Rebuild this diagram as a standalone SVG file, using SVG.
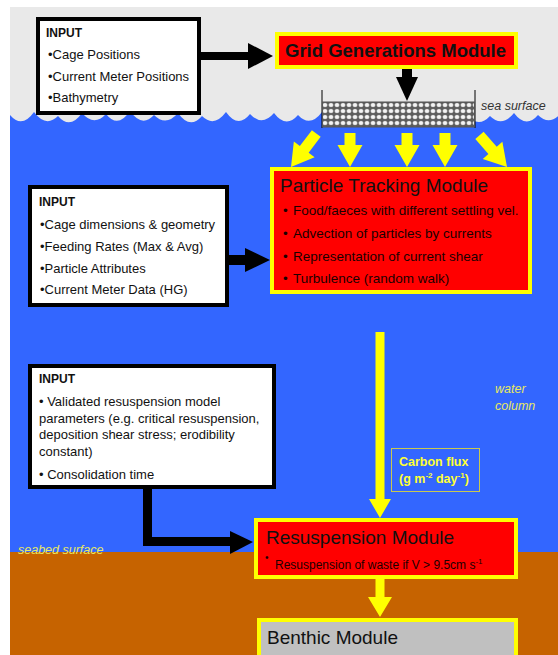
<svg xmlns="http://www.w3.org/2000/svg" width="558" height="655" viewBox="0 0 558 655">
<style>
  text { font-family: "Liberation Sans", Arial, sans-serif; }
  .inbox { fill: #ffffff; stroke: #000000; stroke-width: 4; }
  .modbox { fill: #ff0000; stroke: #ffff00; stroke-width: 4; }
  .bentbox { fill: #c0c0c0; stroke: #ffff00; stroke-width: 4; }
  .hdr { font-size: 12px; font-weight: bold; fill: #111; }
  .itm { font-size: 13px; fill: #111; }
  .title { font-size: 19px; fill: #111; }
  .mitm { font-size: 13.5px; fill: #1a0000; }
  .blk { fill: #000000; }
  .yel { fill: #ffff00; }
  .lab { font-size: 12.5px; font-style: italic; fill: #e8e860; }
</style>
<defs>
  <pattern id="mesh" x="322" y="102" width="6" height="6" patternUnits="userSpaceOnUse">
    <rect width="6" height="6" fill="#5c5c5c"/>
    <rect x="0.8" y="1" width="4.4" height="4" rx="1.6" fill="#f4f4f4" stroke="#8a8a8a" stroke-width="0.4"/>
  </pattern>
  <path id="yV" d="M-5.5,-34 L5.5,-34 L5.5,-22 L12.5,-22 L0,0 L-12.5,-22 L-5.5,-22 Z"/>
  <path id="yD" d="M-5.5,-42 L5.5,-42 L5.5,-22 L13,-22 L0,0 L-13,-22 L-5.5,-22 Z"/>
</defs>

<!-- background -->
<rect x="0" y="0" width="558" height="655" fill="#ffffff"/>
<rect x="10" y="7" width="548" height="648" fill="#e9e9e9"/>
<path fill="#3366ff" d="M10,115 Q22,129 34,112 Q46,128 58,116 Q70,130 82,113 Q94,127 106,114 Q118,129 130,111 Q142,128 154,115 Q166,127 178,113 Q190,130 202,116 Q214,128 226,112 Q238,129 250,114 Q262,127 274,113 Q286,129 298,115 Q310,128 322,112 Q334,129 346,116 Q358,128 370,114 Q382,127 394,113 Q406,129 418,115 Q430,128 442,112 Q454,127 466,114 Q478,129 490,116 Q502,128 514,113 Q526,129 538,115 Q550,127 562,112 L562,552 L10,552 Z"/>
<rect x="10" y="552" width="548" height="103" fill="#c66300"/>

<text x="481" y="110" class="lab" style="fill:#333333">sea surface</text>
<text x="495" y="393" class="lab">water</text>
<text x="495" y="410" class="lab">column</text>
<text x="18" y="554" class="lab">seabed surface</text>

<!-- connectors -->
<g id="connectors">
  <rect x="201" y="52" width="48" height="8" class="blk"/>
  <polygon points="248,43 273,56 248,69" class="blk"/>
  <rect x="402" y="69" width="10" height="9" class="blk"/>
  <polygon points="396,77 418,77 407,101" class="blk"/>
  <rect x="229" y="255" width="17" height="10" class="blk"/>
  <polygon points="245,248 270,260 245,272" class="blk"/>
  <path d="M143,489 L152,489 L152,537 L231,537 L231,546 L143,546 Z" class="blk"/>
  <polygon points="230,531 253,542 230,554" class="blk"/>
  <use href="#yD" class="yel" transform="translate(291,167) rotate(37)"/>
  <use href="#yV" class="yel" transform="translate(350,167)"/>
  <use href="#yV" class="yel" transform="translate(407,167)"/>
  <use href="#yV" class="yel" transform="translate(445,167)"/>
  <use href="#yD" class="yel" transform="translate(507,167) rotate(-41)"/>
  <path d="M375.5,332 L384.5,332 L384.5,499 L391,499 L380,518 L369,499 L375.5,499 Z" class="yel"/>
  <path d="M375.5,579 L384.5,579 L384.5,597 L392,597 L380,617 L368,597 L375.5,597 Z" class="yel"/>
</g>

<g id="carbon-flux-label">
  <rect x="391.5" y="448.5" width="88" height="43" fill="none" stroke="#c8c850" stroke-width="1"/>
  <text x="399" y="466" style="font-size:12.5px;font-weight:bold;fill:#ffff33">Carbon flux</text>
  <text x="399" y="483" style="font-size:12.5px;font-weight:bold;fill:#ffff33">(g m<tspan dy="-5" style="font-size:8px">-2</tspan><tspan dy="5"> day</tspan><tspan dy="-5" style="font-size:8px">-1</tspan><tspan dy="5">)</tspan></text>
</g>

<!-- nodes -->
<g id="input-grid">
  <rect x="38" y="19" width="161" height="94" class="inbox"/>
  <text x="46" y="37" class="hdr">INPUT</text>
  <text x="48" y="59" class="itm">•Cage Positions</text>
  <text x="48" y="81" class="itm">•Current Meter Positions</text>
  <text x="48" y="102" class="itm">•Bathymetry</text>
</g>

<g id="grid-module">
  <rect x="277" y="34" width="239" height="33" class="modbox"/>
  <text x="285" y="57" style="font-size:18.5px;font-weight:bold;fill:#111">Grid Generations Module</text>
</g>

<g id="cage-grid">
  <line x1="322" y1="90" x2="322" y2="128" stroke="#000" stroke-width="1"/>
  <line x1="475" y1="90" x2="475" y2="128" stroke="#000" stroke-width="1"/>
  <rect x="322.5" y="102" width="152" height="25" fill="url(#mesh)" stroke="#555" stroke-width="1"/>
</g>

<g id="particle-module">
  <rect x="272" y="169" width="258" height="123" class="modbox"/>
  <text x="280" y="192" class="title">Particle Tracking Module</text>
  <text x="283" y="215" class="mitm">•</text><text x="293" y="215" class="mitm">Food/faeces with different settling vel.</text>
  <text x="283" y="238" class="mitm">•</text><text x="293" y="238" class="mitm">Advection of particles by currents</text>
  <text x="283" y="261" class="mitm">•</text><text x="293" y="261" class="mitm">Representation of current shear</text>
  <text x="283" y="283" class="mitm">•</text><text x="293" y="283" class="mitm">Turbulence (random walk)</text>
</g>

<g id="input-particle">
  <rect x="30" y="187" width="197" height="118" class="inbox"/>
  <text x="39" y="206" class="hdr">INPUT</text>
  <text x="40" y="229" class="itm">•Cage dimensions &amp; geometry</text>
  <text x="40" y="251" class="itm">•Feeding Rates (Max &amp; Avg)</text>
  <text x="40" y="273" class="itm">•Particle Attributes</text>
  <text x="40" y="294" class="itm">•Current Meter Data (HG)</text>
</g>

<g id="input-resuspension">
  <rect x="30" y="366" width="244" height="121" class="inbox"/>
  <text x="39" y="383" class="hdr">INPUT</text>
  <text x="39" y="406" class="itm">• Validated resuspension model</text>
  <text x="39" y="423" class="itm">parameters (e.g. critical resuspension,</text>
  <text x="39" y="439" class="itm">deposition shear stress; erodibility</text>
  <text x="39" y="456" class="itm">constant)</text>
  <text x="39" y="479" class="itm">• Consolidation time</text>
</g>

<g id="resuspension-module">
  <rect x="256" y="520" width="260" height="57" class="modbox"/>
  <text x="266" y="544" class="title">Resuspension Module</text>
  <text x="265" y="561" style="font-size:10px;fill:#1a0000">•</text>
  <text x="275" y="569" style="font-size:12px;fill:#1a0000">Resuspension of waste if V &gt; 9.5cm s<tspan dy="-5" style="font-size:8px">-1</tspan></text>
</g>

<g id="benthic-module">
  <rect x="259" y="620" width="257" height="45" class="bentbox"/>
  <text x="267" y="644" class="title">Benthic Module</text>
</g>
</svg>
